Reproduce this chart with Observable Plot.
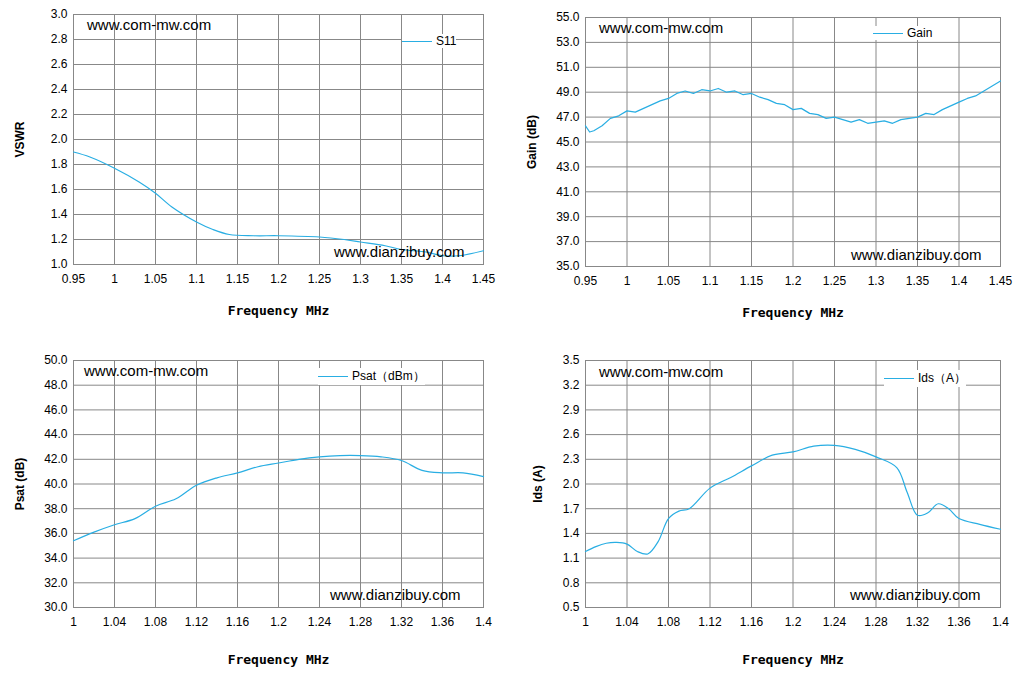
<!DOCTYPE html>
<html><head><meta charset="utf-8">
<script src="https://cdn.jsdelivr.net/npm/d3@7"></script>
<script src="https://cdn.jsdelivr.net/npm/@observablehq/plot@0.6"></script>
<style>
body{margin:0;background:#fff;font-family:"Liberation Sans",Arial,sans-serif;}
#wrap{position:relative;width:1029px;height:680px;}
.p{position:absolute;}
.wm{position:absolute;font-size:15px;color:#000;}
.lg{position:absolute;background:#fff;font-size:12px;display:flex;align-items:center;}
.lg span.l{display:inline-block;width:30px;height:0;border-top:1px solid #29aee3;margin-right:4px;}
</style></head><body><div id="wrap"></div>
<script>
const color="#29aee3";
// Panel 1: VSWR
const s11F=[0.95,0.97,1.0,1.03,1.05,1.07,1.1,1.12,1.14,1.17,1.2,1.25,1.28,1.3,1.33,1.35,1.38,1.4,1.42,1.45];
const s11V=[1.90,1.86,1.77,1.66,1.57,1.46,1.34,1.28,1.24,1.23,1.23,1.22,1.20,1.18,1.15,1.12,1.10,1.07,1.07,1.11];
// Panel 2: Gain
const gainF=[0.95,0.955,0.96,0.97,0.98,0.99,1.0,1.01,1.02,1.03,1.04,1.05,1.06,1.07,1.08,1.09,1.10,1.11,1.12,1.13,1.14,1.15,1.16,1.17,1.18,1.19,1.20,1.21,1.22,1.23,1.24,1.25,1.26,1.27,1.28,1.29,1.30,1.31,1.32,1.33,1.34,1.35,1.36,1.37,1.38,1.39,1.40,1.41,1.42,1.43,1.44,1.45];
const gainV=[46.3,45.8,45.9,46.3,46.9,47.1,47.5,47.4,47.7,48.0,48.3,48.5,48.9,49.1,48.9,49.2,49.1,49.3,49.0,49.1,48.8,48.9,48.6,48.4,48.1,48.0,47.6,47.7,47.3,47.2,46.9,47.0,46.8,46.6,46.8,46.5,46.6,46.7,46.5,46.8,46.9,47.0,47.3,47.2,47.6,47.9,48.2,48.5,48.7,49.1,49.5,49.9];
// Panel 3: Psat
const psatF=[1.0,1.02,1.04,1.06,1.08,1.10,1.12,1.14,1.16,1.18,1.20,1.22,1.24,1.26,1.28,1.30,1.32,1.34,1.36,1.38,1.40];
const psatV=[35.4,36.1,36.7,37.2,38.2,38.8,39.9,40.5,40.9,41.4,41.7,42.0,42.2,42.3,42.3,42.2,41.9,41.1,40.9,40.9,40.6];
// Panel 4: Ids
const idsF=[1.0,1.01,1.02,1.03,1.04,1.05,1.06,1.07,1.08,1.09,1.10,1.12,1.14,1.16,1.18,1.20,1.22,1.24,1.26,1.28,1.30,1.31,1.32,1.33,1.34,1.35,1.36,1.38,1.40];
const idsV=[1.18,1.24,1.28,1.29,1.27,1.18,1.15,1.30,1.58,1.67,1.70,1.95,2.08,2.22,2.35,2.39,2.46,2.47,2.42,2.33,2.20,1.90,1.62,1.65,1.76,1.70,1.58,1.51,1.45];

const wrap=document.getElementById("wrap");
function panel(o){
  const data=o.x.map((x,i)=>({x,y:o.y[i]}));
  const p=Plot.plot({
    width:o.w,height:340,marginLeft:o.ml,marginRight:o.mr,marginTop:o.mt,marginBottom:o.mb,
    style:{fontFamily:"Liberation Sans, Arial, sans-serif",fontSize:"12px",color:"#000",background:"transparent"},
    x:{domain:o.xd,ticks:o.xt},
    y:{domain:o.yd,ticks:o.yt},
    marks:[
      Plot.gridX(o.xt,{stroke:"#888",strokeOpacity:1}),
      Plot.gridY(o.yt,{stroke:"#888",strokeOpacity:1}),
      Plot.frame({stroke:"#888"}),
      Plot.axisX(o.xt,{tickSize:0,tickPadding:10,tickFormat:d=>String(+d.toFixed(2)),label:"Frequency MHz",labelArrow:"none",labelAnchor:"center",labelOffset:o.lx,fontSize:12}),
      Plot.axisY(o.yt,{tickSize:0,tickPadding:6,tickFormat:d=>d.toFixed(1),label:o.yl,labelArrow:"none",labelAnchor:"center",labelOffset:o.ly}),
      Plot.line(data,{x:"x",y:"y",stroke:color,strokeWidth:1.2,curve:o.curve||"linear"})
    ]});
  p.querySelectorAll("g[aria-label='x-axis label'] text").forEach(t=>{t.textContent=t.textContent.replace(/\s*[→←↑↓]\s*/g,"");t.style.fontWeight="bold";t.style.fontFamily="DejaVu Sans Mono, monospace";t.style.fontSize="13px";});
  p.querySelectorAll("g[aria-label='y-axis label'] text").forEach(t=>{t.textContent=t.textContent.replace(/\s*[→←↑↓]\s*/g,"");t.style.fontWeight="bold";t.style.fontSize="12px";});
  p.classList.add("p");p.style.left=o.left+"px";p.style.top=o.top+"px";
  wrap.appendChild(p);
}
const r=(a,b,s)=>d3.range(a,b+s/2,s).map(v=>+v.toFixed(3));
panel({left:0,top:0,w:514,ml:73,mr:31,mt:14,mb:76,xd:[0.95,1.45],xt:r(0.95,1.45,0.05),yd:[1,3],yt:r(1,3,0.2),yl:"VSWR",lx:50,ly:58,x:s11F,y:s11V,curve:"catmull-rom"});
panel({left:514,top:0,w:515,ml:71,mr:29,mt:17,mb:74,xd:[0.95,1.45],xt:r(0.95,1.45,0.05),yd:[35,55],yt:r(35,55,2),yl:"Gain (dB)",lx:50,ly:58,x:gainF,y:gainV});
panel({left:0,top:340,w:514,ml:73,mr:31,mt:20,mb:73,xd:[1,1.4],xt:r(1,1.4,0.04),yd:[30,50],yt:r(30,50,2),yl:"Psat (dB)",lx:56,ly:58,x:psatF,y:psatV,curve:"catmull-rom"});
panel({left:514,top:340,w:515,ml:71,mr:29,mt:20,mb:73,xd:[1,1.4],xt:r(1,1.4,0.04),yd:[0.5,3.5],yt:r(0.5,3.5,0.3),yl:"Ids (A)",lx:56,ly:52,x:idsF,y:idsV,curve:"catmull-rom"});

function add(cls,html,x,y,extra){const d=document.createElement("div");d.className=cls;d.innerHTML=html;d.style.left=x+"px";d.style.top=y+"px";if(extra)Object.assign(d.style,extra);wrap.appendChild(d);}
add("wm","www.com-mw.com",87,16);
add("wm","www.dianzibuy.com",334,243);
add("wm","www.com-mw.com",599,19);
add("wm","www.dianzibuy.com",851,246);
add("wm","www.com-mw.com",84,362);
add("wm","www.dianzibuy.com",330,586);
add("wm","www.com-mw.com",599,363);
add("wm","www.dianzibuy.com",850,586);
add("lg",'<span class="l"></span>S11',402,34,{width:80,height:40,justifyContent:"flex-start"});
add("lg",'<span class="l"></span>Gain',873,26,{width:110,height:18});
add("lg",'<span class="l"></span>Psat（dBm）',318,368,{width:140,height:18});
add("lg",'<span class="l"></span>Ids（A）',884,370,{width:100,height:18});
</script></body></html>
